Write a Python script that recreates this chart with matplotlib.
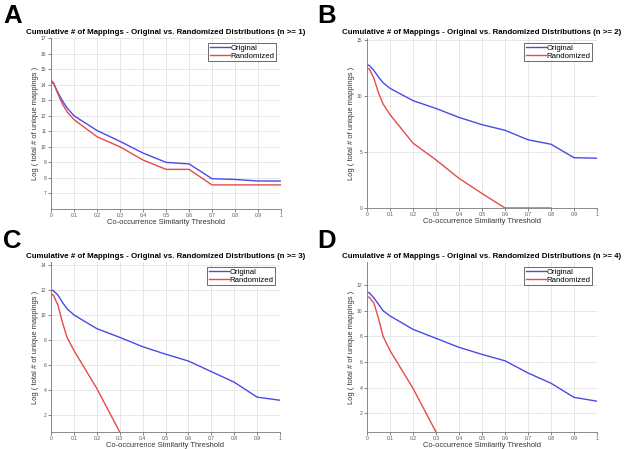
import matplotlib
matplotlib.use("Agg")
import matplotlib.pyplot as plt

plt.rcParams['font.family'] = ['Liberation Sans', 'DejaVu Sans']

# Thresholds
x_full = [0, 0.01, 0.03, 0.05, 0.07, 0.1, 0.2, 0.3, 0.4, 0.5, 0.6, 0.7, 0.8, 0.9, 1.0]

# Panel A (n >= 1)
a_orig = [14.15, 14.1, 13.5, 12.95, 12.5, 12.0, 11.05, 10.35, 9.6, 9.0, 8.9, 7.95, 7.9, 7.8, 7.8]
a_rand = [14.25, 14.15, 13.4, 12.75, 12.25, 11.75, 10.65, 10.0, 9.15, 8.55, 8.55, 7.55, 7.55, 7.55, 7.55]

# Panel B (n >= 2)
b_orig = [12.8, 12.75, 12.3, 11.7, 11.2, 10.7, 9.6, 8.9, 8.1, 7.45, 6.95, 6.1, 5.7, 4.5, 4.45]
x_b_rand = [0, 0.01, 0.03, 0.05, 0.07, 0.1, 0.2, 0.3, 0.4, 0.5, 0.6, 0.7, 0.8]
b_rand = [12.5, 12.45, 11.6, 10.3, 9.3, 8.35, 5.8, 4.3, 2.65, 1.3, 0.0, 0.0, 0.0]

# Panel C (n >= 3)
c_orig = [12.0, 11.95, 11.6, 11.0, 10.5, 10.0, 8.9, 8.2, 7.45, 6.85, 6.3, 5.45, 4.6, 3.4, 3.15]
x_c_rand = [0, 0.01, 0.03, 0.05, 0.07, 0.1, 0.2, 0.3]
c_rand = [11.65, 11.6, 10.8, 9.4, 8.2, 7.15, 4.1, 0.6]

# Panel D (n >= 4)
d_orig = [11.45, 11.4, 11.0, 10.5, 10.0, 9.6, 8.55, 7.85, 7.15, 6.6, 6.1, 5.15, 4.35, 3.25, 2.95]
x_d_rand = [0, 0.01, 0.03, 0.05, 0.07, 0.1, 0.2, 0.3]
d_rand = [11.1, 11.05, 10.6, 9.4, 8.0, 6.9, 3.95, 0.55]

xticks = [0, 0.1, 0.2, 0.3, 0.4, 0.5, 0.6, 0.7, 0.8, 0.9, 1.0]
xticklabels = ["0", "0.1", "0.2", "0.3", "0.4", "0.5", "0.6", "0.7", "0.8", "0.9", "1"]

panels = [
    dict(letter="A", n=1, orig=(x_full, a_orig), rand=(x_full, a_rand),
         ylim=(6, 17), yticks=list(range(7, 18))),
    dict(letter="B", n=2, orig=(x_full, b_orig), rand=(x_b_rand, b_rand),
         ylim=(0, 15.2), yticks=[0, 5, 10, 15]),
    dict(letter="C", n=3, orig=(x_full, c_orig), rand=(x_c_rand, c_rand),
         ylim=(0.6, 14.25), yticks=[2, 4, 6, 8, 10, 12, 14]),
    dict(letter="D", n=4, orig=(x_full, d_orig), rand=(x_d_rand, d_rand),
         ylim=(0.55, 13.8), yticks=[2, 4, 6, 8, 10, 12]),
]

W, H = 624, 449
fig = plt.figure(figsize=(W / 100, H / 100), dpi=100)

# axes boxes in pixels: left, top, right, bottom
boxes = [(51, 38, 281, 209), (367, 38, 597, 208), (51, 262, 280, 432), (367, 262, 597, 432)]
letter_pos = [(3, 23), (317, 23), (3, 248), (317, 248)]

blue = '#4a4ae6'
red = '#e64a4a'

for p, (l, t, r, b), (lx, ly) in zip(panels, boxes, letter_pos):
    ax = fig.add_axes([l / W, 1 - b / H, (r - l) / W, (b - t) / H])
    ax.plot(p["orig"][0], p["orig"][1], color=blue, lw=1.0, label="Original")
    ax.plot(p["rand"][0], p["rand"][1], color=red, lw=1.0, label="Randomized")
    ax.set_xlim(0, 1)
    ax.set_ylim(*p["ylim"])
    ax.set_xticks(xticks)
    ax.set_xticklabels(xticklabels)
    ax.set_yticks(p["yticks"])
    ax.tick_params(labelsize=3.6, colors='#555555', length=2, width=0.5, pad=1.2)
    ax.grid(True, color='#e3e3e3', lw=0.6)
    ax.set_axisbelow(True)
    for s in ("top", "right"):
        ax.spines[s].set_visible(False)
    for s in ("left", "bottom"):
        ax.spines[s].set_color('#777777')
        ax.spines[s].set_linewidth(0.6)
    ax.set_title("Cumulative # of Mappings - Original vs. Randomized Distributions (n >= %d)" % p["n"],
                 fontsize=5.7, fontweight='bold', pad=3)
    ax.set_xlabel("Co-occurrence Similarity Threshold", fontsize=5.4, color='#333333', labelpad=0.5)
    ax.set_ylabel("Log ( total # of unique mappings )", fontsize=5.4, color='#333333', labelpad=1.5)
    leg = ax.legend(loc='upper right', fontsize=5.6, frameon=True, fancybox=False,
                    handlelength=2.6, handletextpad=0.1, borderpad=0.2, labelspacing=0.1,
                    borderaxespad=0.6)
    leg.get_frame().set_edgecolor('#444444')
    leg.get_frame().set_linewidth(0.7)
    fig.text(lx / W, 1 - ly / H, p["letter"], fontsize=18.5, fontweight='bold', va='baseline', ha='left')

fig.savefig("out.png", dpi=100)
